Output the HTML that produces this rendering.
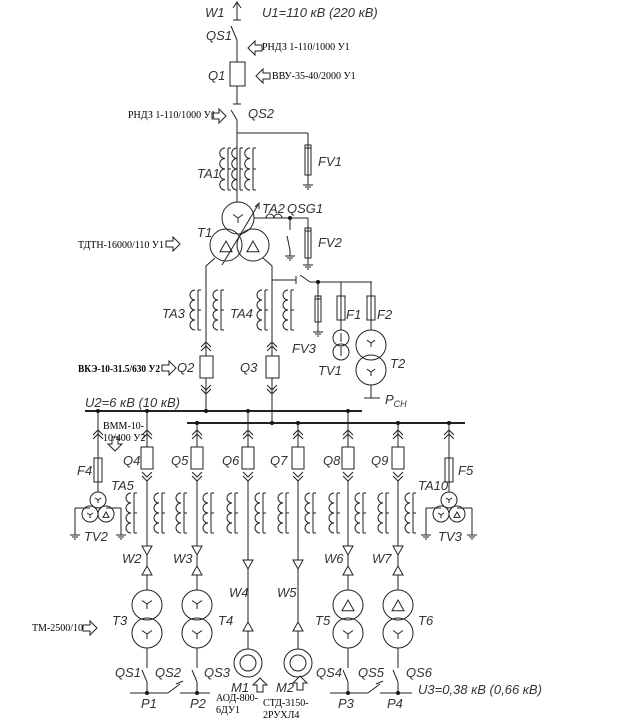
<!DOCTYPE html>
<html><head><meta charset="utf-8"><style>
html,body{margin:0;padding:0;background:#fff;}
svg{display:block}
.l{font-family:"Liberation Sans",sans-serif;font-style:italic;font-size:13px;fill:#333}
.r{font-family:"Liberation Serif","DejaVu Serif",serif;font-size:10px;fill:#000}
</style></head><body>
<svg id="s" width="623" height="722" viewBox="0 0 623 722" xmlns="http://www.w3.org/2000/svg" stroke="#222" stroke-width="1" fill="none">
<g id="g"></g>
<g stroke="none">
<text class="l" x="205" y="17">W1</text>
<text class="l" x="262" y="17">U1=110  кВ  (220  кВ)</text>
<text class="l" x="206" y="40">QS1</text>
<text class="l" x="208" y="80">Q1</text>
<text class="l" x="248" y="118">QS2</text>
<text class="l" x="197" y="178">TA1</text>
<text class="l" x="318" y="166">FV1</text>
<text class="l" x="262" y="213">TA2</text>
<text class="l" x="287" y="213">QSG1</text>
<text class="l" x="197" y="237">T1</text>
<text class="l" x="318" y="247">FV2</text>
<text class="l" x="162" y="318">TA3</text>
<text class="l" x="230" y="318">TA4</text>
<text class="l" x="346" y="319">F1</text>
<text class="l" x="377" y="319">F2</text>
<text class="l" x="292" y="353">FV3</text>
<text class="l" x="318" y="375">TV1</text>
<text class="l" x="390" y="368">T2</text>
<text class="l" x="177" y="372">Q2</text>
<text class="l" x="240" y="372">Q3</text>
<text class="l" x="385" y="404">P<tspan font-size="9" dy="3">СН</tspan></text>
<text class="l" x="85" y="407">U2=6  кВ  (10  кВ)</text>
<text class="l" x="123" y="465">Q4</text>
<text class="l" x="171" y="465">Q5</text>
<text class="l" x="222" y="465">Q6</text>
<text class="l" x="270" y="465">Q7</text>
<text class="l" x="323" y="465">Q8</text>
<text class="l" x="371" y="465">Q9</text>
<text class="l" x="77" y="475">F4</text>
<text class="l" x="458" y="475">F5</text>
<text class="l" x="111" y="490">TA5</text>
<text class="l" x="418" y="490">TA10</text>
<text class="l" x="84" y="541">TV2</text>
<text class="l" x="438" y="541">TV3</text>
<text class="l" x="122" y="563">W2</text>
<text class="l" x="173" y="563">W3</text>
<text class="l" x="229" y="597">W4</text>
<text class="l" x="277" y="597">W5</text>
<text class="l" x="324" y="563">W6</text>
<text class="l" x="372" y="563">W7</text>
<text class="l" x="112" y="625">T3</text>
<text class="l" x="218" y="625">T4</text>
<text class="l" x="315" y="625">T5</text>
<text class="l" x="418" y="625">T6</text>
<text class="l" x="115" y="677">QS1</text>
<text class="l" x="155" y="677">QS2</text>
<text class="l" x="204" y="677">QS3</text>
<text class="l" x="316" y="677">QS4</text>
<text class="l" x="358" y="677">QS5</text>
<text class="l" x="406" y="677">QS6</text>
<text class="l" x="231" y="692">M1</text>
<text class="l" x="276" y="692">M2</text>
<text class="l" x="141" y="708">P1</text>
<text class="l" x="190" y="708">P2</text>
<text class="l" x="338" y="708">P3</text>
<text class="l" x="387" y="708">P4</text>
<text class="l" x="418" y="694">U3=0,38  кВ  (0,66  кВ)</text>
<text class="r" x="262" y="50">РНДЗ 1-110/1000 У1</text>
<text class="r" x="272" y="79">ВВУ-35-40/2000 У1</text>
<text class="r" x="128" y="118">РНДЗ 1-110/1000 У1</text>
<text class="r" x="78" y="248">ТДТН-16000/110 У1</text>
<text class="r" x="78" y="372" font-weight="bold" textLength="82" lengthAdjust="spacingAndGlyphs">ВКЭ-10-31.5/630 У2</text>
<text class="r" x="103" y="429">ВММ-10-</text>
<text class="r" x="103" y="441">10/400 У2</text>
<text class="r" x="32" y="631">ТМ-2500/10</text>
<text class="r" x="216" y="701">АОД-800-</text>
<text class="r" x="216" y="713">6ДУ1</text>
<text class="r" x="263" y="706">СТД-3150-</text>
<text class="r" x="263" y="718">2РУХЛ4</text>
</g>
</svg>
<script>
(function(){
var o='';
function L(a,b,c,d,w){o+='<line x1="'+a+'" y1="'+b+'" x2="'+c+'" y2="'+d+'"'+(w?' stroke-width="'+w+'"':'')+'/>';}
function P(d,f){o+='<path d="'+d+'"'+(f?' fill="'+f+'"':'')+'/>';}
function C(x,y,r){o+='<circle cx="'+x+'" cy="'+y+'" r="'+r+'" fill="none"/>';}
function D(x,y){o+='<circle cx="'+x+'" cy="'+y+'" r="2" fill="#111" stroke="none"/>';}
function R(x,y,w,h){o+='<rect x="'+x+'" y="'+y+'" width="'+w+'" height="'+h+'" fill="#fff"/>';}
function G(x,y){L(x-5,y,x+5,y);L(x-3,y+2,x+3,y+2);L(x-1,y+4,x+1,y+4);}
function coil(x,y1,y2){var n=4,h=(y2-y1)/n,d='M'+x+' '+y1;for(var i=0;i<n;i++){d+=' A'+(h/2)+' '+(h/2)+' 0 0 0 '+x+' '+(y1+(i+1)*h);}P(d);L(x+3,y1,x+3,y2);L(x+3,y1,x+6,y1);L(x+3,y2,x+6,y2);L(x+3,(y1+y2)/2,x+6,(y1+y2)/2);}
function chevUp(x,y){P('M'+(x-5)+' '+(y+5)+' L'+x+' '+y+' L'+(x+5)+' '+(y+5));P('M'+(x-5)+' '+(y+9)+' L'+x+' '+(y+4)+' L'+(x+5)+' '+(y+9));}
function chevDn(x,y){P('M'+(x-5)+' '+y+' L'+x+' '+(y+5)+' L'+(x+5)+' '+y);P('M'+(x-5)+' '+(y+4)+' L'+x+' '+(y+9)+' L'+(x+5)+' '+(y+4));}
function triD(x,y){P('M'+(x-5)+' '+y+' L'+(x+5)+' '+y+' L'+x+' '+(y+9)+'Z','#fff');}
function triU(x,y){P('M'+(x-5)+' '+(y+9)+' L'+(x+5)+' '+(y+9)+' L'+x+' '+y+'Z','#fff');}
function star(x,y,s){L(x,y,x,y+s);L(x,y,x-s,y-s*0.7);L(x,y,x+s,y-s*0.7);}
function delta(x,y,s){P('M'+(x-s)+' '+(y+s*0.8)+' L'+(x+s)+' '+(y+s*0.8)+' L'+x+' '+(y-s)+'Z');}
function arrowR(x,y){P('M'+x+' '+(y-3)+' h7 v-4 l7 7 l-7 7 v-4 h-7z','#fff');}
function arrowL(x,y){P('M'+(x+14)+' '+(y-3)+' h-7 v-4 l-7 7 l7 7 v-4 h7z','#fff');}
function arrowUp(x,y){P('M'+(x-3)+' '+(y+14)+' v-7 h-4 l7 -7 l7 7 h-4 v7z','#fff');}
function arrowDn(x,y){P('M'+(x-3)+' '+y+' v7 h-4 l7 7 l7 -7 h-4 v-7z','#fff');}
function FV(x,y1,y2){R(x-3,y1,6,y2-y1);L(x,y1,x,y2);L(x-3,y1+3,x+3,y1+3);}
function fuse(x,y1,y2){R(x-4,y1,8,y2-y1);L(x,y1,x,y2);}
L(237,2,237,20);P('M233 8 L237 2 L241 8');L(233,20,241,20);
P('M231 26 L237 40');L(237,40,237,62);R(230,62,15,24);L(237,86,237,104);L(233,104,241,104);P('M231 110 L237 120');L(237,120,237,202);
arrowL(248,48);arrowL(256,76);arrowR(212,116);
L(237,133,308,133);L(308,133,308,145);FV(308,145,175);L(308,175,308,185);G(308,185);
coil(225,148,190);coil(237,148,190);coil(250,148,190);
C(238,218,16);C(226,245,16);C(253,245,16);star(238,218,5);delta(226,247,6);delta(253,247,6);
L(222,265,258,205);P('M255 207 L259 203 L259 209');
L(254,218,308,218);P('M266 218 a4 4 0 0 1 8 0 a4 4 0 0 1 8 0');D(290,218);L(290,218,290,230);P('M287 236 L290 250');L(290,250,290,256);G(290,256);
L(308,218,308,228);FV(308,228,258);L(308,258,308,265);G(308,265);
arrowR(166,244);
P('M215 258 L206 266 L206 411');P('M263 258 L272 266 L272 423');
L(272,280,296,280);L(296,276,296,284);P('M300 275 L310 282');L(310,282,372,282);D(318,282);
L(318,282,318,296);FV(318,296,322);L(318,322,318,332);G(318,332);
L(341,282,341,296);fuse(341,296,320);L(341,320,341,330);C(341,338,8);C(341,352,8);L(341,333,341,342);L(341,347,341,356);
L(371,282,371,296);fuse(371,296,320);L(371,320,371,330);C(371,345,15);C(371,370,15);star(371,343,4);star(371,372,4);L(371,385,371,398);L(364,398,380,398);
coil(195,290,330);coil(218,290,330);coil(262,290,330);coil(288,290,330);
chevUp(206,342);R(200,356,13,22);chevDn(206,385);
chevUp(272,342);R(266,356,13,22);chevDn(272,385);
arrowR(162,368);
L(85,411,362,411,2);L(187,423,465,423,2);
D(98,411);D(147,411);D(206,411);D(248,411);D(348,411);D(272,423);
D(197,423);D(298,423);D(398,423);D(449,423);
arrowDn(115,437);
var fx=[147,197,248,298,348,398];
for(var i=0;i<6;i++){var x=fx[i];var ty=(x==147||x==248||x==348)?411:423;L(x,ty,x,448);chevUp(x,430);R(x-6,447,12,22);chevDn(x,472);}
var cx=[131,159,181,208,232,260,283,310,334,360,383,410];
for(var j=0;j<cx.length;j++)coil(cx[j],493,533);
[98,449].forEach(function(x){L(x,x==98?411:423,x,458);chevUp(x,430);fuse(x,458,482);L(x,482,x,492);C(x,500,8);C(x-8,514,8);C(x+8,514,8);
L(x-8,508,x-23,508);L(x-23,508,x-23,535);G(x-23,535);L(x+8,508,x+23,508);L(x+23,508,x+23,535);G(x+23,535);star(x,500,3);star(x-8,515,3);delta(x+8,515,3);});
[147,197,348,398].forEach(function(x,k){L(x,480,x,590);triD(x,546);triU(x,566);C(x,605,15);C(x,633,15);if(k<2)star(x,604,5);else delta(x,606,6);star(x,634,5);L(x,648,x,668);P('M'+(x-5)+' 670 L'+x+' 682');L(x,682,x,693);D(x,693);});
[248,298].forEach(function(x){L(x,480,x,649);triD(x,560);triU(x,622);C(x,663,14);C(x,663,8);});
arrowUp(260,678);arrowUp(300,676);arrowR(83,628);
L(130,693,168,693);P('M168 693 L180 684');L(176,684,183,681);L(180,693,210,693);
L(330,693,368,693);P('M368 693 L380 684');L(376,684,383,681);L(380,693,412,693);
document.getElementById('g').innerHTML=o;
})();
</script>
</body></html>
